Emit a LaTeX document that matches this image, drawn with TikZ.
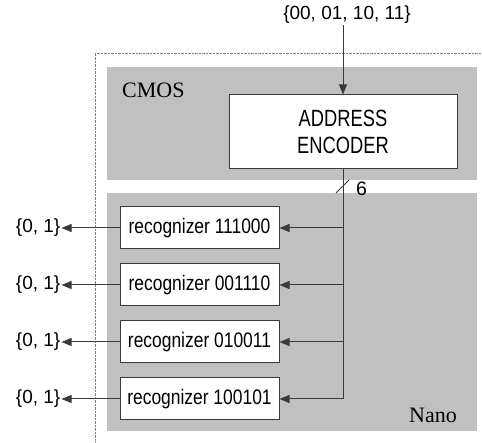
\documentclass[tikz,border=0pt]{standalone}
\usepackage{fontspec}
\setmainfont{Liberation Serif}
\setsansfont{Liberation Sans}
\usetikzlibrary{positioning,arrows.meta}
\definecolor{layergray}{HTML}{C0C0C0}
\definecolor{linegray}{HTML}{3A3A3A}
\newcommand{\tightx}[2]{\scalebox{#1}[1]{#2}}
\tikzset{layer node/.style={rectangle,fill=layergray,inner sep=0pt},
	rec node/.style={rectangle,draw=linegray,fill=white,line width=1pt,minimum width=159pt,minimum height=42pt,inner sep=0pt,font=\sffamily\fontsize{21}{24}\selectfont},
	label node/.style={inner sep=1pt,font=\sffamily\fontsize{19}{22}\selectfont},
	wire/.style={draw=linegray,line width=1pt},
	arrow/.style={wire,-{Triangle[length=10pt,width=8pt]}},
}
\begin{document}
\begin{tikzpicture}[x=1pt,y=-1pt]
				\useasboundingbox (0,0) rectangle (482,443);
				\draw[gray,densely dotted] (482,53) -- (95,53) -- (95,443);
				
				\node[layer node,minimum width=370pt,minimum height=113pt] (cmos) at (292,123.5) {};
				\node[layer node,minimum width=370pt,minimum height=238pt] (nano) at (292,312) {};
				\node[font=\fontsize{22}{24}\selectfont,anchor=west,inner sep=0pt] (cmoslabel) at (122,90) {CMOS};
				\node[font=\fontsize{22}{24}\selectfont,anchor=east,inner sep=0pt] (nanolabel) at (457,415) {Nano};
				
				\node[rec node,minimum width=228pt,minimum height=74pt,align=center,font=\sffamily\fontsize{23.5}{27}\selectfont] (enc) at (343,132) {\tightx{0.78}{ADDRESS}\\\tightx{0.78}{ENCODER}};
				\node[label node] (in) at (347,15) {\{00, 01, 10, 11\}};
				
				\node[rec node] (R1) at (199.5,228) {\tightx{0.83}{recognizer 111000}};
				\node[rec node] (R2) [below=14pt of R1] {\tightx{0.83}{recognizer 001110}};
				\node[rec node] (R3) [below=14pt of R2] {\tightx{0.83}{recognizer 010011}};
				\node[rec node] (R4) [below=14pt of R3] {\tightx{0.83}{recognizer 100101}};
				
				\node[label node] (O1) [left=58pt of R1] {\{0, 1\}};
				\node[label node] (O2) [left=58pt of R2] {\{0, 1\}};
				\node[label node] (O3) [left=58pt of R3] {\{0, 1\}};
				\node[label node] (O4) [left=58pt of R4] {\{0, 1\}};
				
				\coordinate (bus) at (enc.south |- 0,187);
				\node[label node,anchor=west,font=\sffamily\fontsize{19.5}{22}\selectfont] (width) at (355,189) {6};
				
				\draw[arrow] (in.south -| enc.north) -- (enc.north);
				\draw[arrow] (enc.south) |- (R4.east);
				\draw[wire] ([shift={(-7,6)}]bus) -- ([shift={(6,-7)}]bus);
				\foreach \i in {1,2,3}
					\draw[arrow] (enc.south |- R\i.east) -- (R\i.east);
				\foreach \i in {1,2,3,4}
					\draw[arrow] (R\i.west) -- (O\i.east);
				
			\end{tikzpicture}
\end{document}
